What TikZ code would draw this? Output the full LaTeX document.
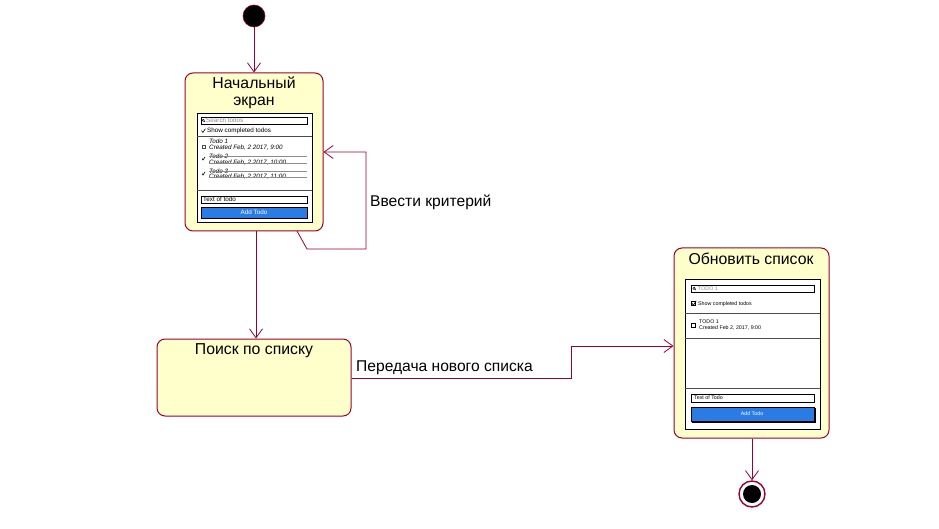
\documentclass[tikz,border=0pt]{standalone}
\usepackage{fontspec}
\setmainfont{Liberation Sans}
\usetikzlibrary{arrows.meta}
\definecolor{edge}{HTML}{990033}
\definecolor{statefill}{HTML}{FFFFCC}
\definecolor{btn}{HTML}{2B7BE4}
\begin{document}
\begin{tikzpicture}[x=1pt,y=-1pt,
 state/.style={draw=edge,fill=statefill,rounded corners=8pt,line width=1pt,inner sep=0,rectangle},
 arr/.style={draw=edge,line width=0.8pt,-{Straight Barb[length=9pt,width=13pt,line width=0.8pt]}},
 ttl/.style={font=\fontsize{15.8}{17}\selectfont,align=center,inner sep=0},
 lbl/.style={font=\fontsize{15.6}{17}\selectfont,inner sep=0,anchor=west},
 mock/.style={draw=black,fill=white,line width=0.8pt},
 field/.style={draw=black,fill=white,line width=0.7pt},
 sep/.style={draw=black!70,line width=0.5pt},
 tiny/.style={font=\fontsize{6.3}{7}\selectfont,inner sep=0,anchor=west},
 tinyi/.style={font=\fontsize{6.3}{7}\selectfont\itshape,inner sep=0,anchor=west},
 small/.style={font=\fontsize{5.3}{6}\selectfont,inner sep=0,anchor=west},
 grey/.style={text=black!45},
 cbox/.style={draw=black,line width=0.4pt},
 chk/.style={draw=black,line width=0.6pt},
 strike/.style={draw=black!45,line width=0.4pt}
]
\fill[white] (0,0) rectangle (939,529);
\useasboundingbox (0,0) rectangle (939,529);

% start
\node[circle,fill=black,draw=edge,line width=0.6pt,minimum size=22pt,inner sep=0] (start) at (254,16) {};

% states
\node[state,minimum width=138pt,minimum height=158pt] (s1) at (254,152) {};
\node[state,minimum width=194pt,minimum height=77pt] (s2) at (254,377.5) {};
\node[state,minimum width=155pt,minimum height=190pt] (s3) at (751.5,343) {};

% end
\node[circle,draw=edge,fill=white,line width=1.4pt,minimum size=26pt,inner sep=0] (end) at (752,494) {};
\fill[black] (end.center) circle (9pt);

% titles
\node[ttl] (t1) at (254,92.5) {Начальный\\экран};
\node[ttl] (t2) at (254,351) {Поиск по списку};
\node[ttl] (t3) at (751,259) {Обновить список};

% ---- mockup 1
\draw[mock] (197,113) rectangle (312,222);
\draw[field] (201,117) rectangle (307,124);
\draw[line width=0.4pt] (203.3,120.3) circle (1.1pt) (204.1,121.1) -- (205,122);
\node[tiny,grey] (m1s) at (206,120.6) {Search todos};
\draw[chk] (201.6,130.6) -- (202.9,132.4) -- (205.4,128.8);
\node[tiny] (m1c) at (207,131) {Show completed todos};
\draw[sep] (197,136) -- (312,136);
\draw[cbox,draw=black!70] (202,145) rectangle (204.8,147.8);
\node[tinyi] (m1a) at (209,141) {Todo 1};
\node[tinyi] (m1b) at (209,148) {Created Feb, 2 2017, 9:00};
\draw[chk] (202,158.5) -- (203,160) -- (205,157);
\node[tinyi] (m2a) at (209,156) {Todo 2};
\node[tinyi] (m2b) at (209,163) {Created Feb, 2 2017, 10:00};
\draw[strike] (209,156) -- (307,156) (209,163) -- (307,163);
\draw[chk] (202,173.5) -- (203,175) -- (205,172);
\node[tinyi] (m3a) at (209,171) {Todo 3};
\node[tinyi] (m3b) at (209,177) {Created Feb, 2 2017, 11:00};
\draw[strike] (209,171) -- (307,171) (209,177) -- (307,177);
\draw[sep] (197,190) -- (312,190);
\draw[field] (201,196) rectangle (307,203);
\node[tiny] (m1t) at (203,199.6) {Text of todo};
\fill[black] (202,208) rectangle (308,219);
\draw[fill=btn,draw=black,line width=0.5pt] (201,207) rectangle (307,218);
\node[tiny,anchor=center,text=white] (m1btn) at (254,212.5) {Add Todo};

% ---- mockup 2
\draw[mock] (685,279) rectangle (820,429);
\draw[field] (691,285) rectangle (814,292);
\draw[line width=0.5pt] (694,288.3) circle (1.2pt) (694.9,289.2) -- (695.9,290.2);
\node[small,grey] (n1s) at (698,288.5) {TODO 1};
\draw[cbox] (691.5,301.5) rectangle (695.5,305.5);
\draw[chk] (692,303.3) -- (693.3,305.2) -- (696.2,300.8);
\node[small] (n1c) at (698,304) {Show completed todos};
\draw[sep] (685,313) -- (820,313);
\draw[cbox] (691.5,323) rectangle (695.3,326.8);
\node[small] (n1a) at (699,322) {TODO 1};
\node[small] (n1b) at (699,328.3) {Created Feb 2, 2017, 9:00};
\draw[sep] (685,338) -- (820,338);
\draw[sep] (685,388) -- (820,388);
\draw[field] (691,394) rectangle (814,402);
\node[small] (n1t) at (694,398) {Text of Todo};
\fill[black] (692,408) rectangle (815.5,422.5);
\draw[fill=btn,draw=black,line width=0.5pt] (691,407) rectangle (814,421);
\node[small,anchor=center,text=white] (n1btn) at (752,414) {Add Todo};

% ---- connectors
\draw[arr] (start) -- (s1.north);
\draw[arr] ([xshift=2pt]s1.south) -- ([xshift=2pt]s2.north);
\coordinate (la) at (297,231);
\coordinate (lb) at (307,249);
\coordinate (lc) at (366,249);
\coordinate (ld) at (366,152);
\draw[arr] (la) -- (lb) -- (lc) -- (ld) -- (s1.east);
\node[lbl] (lab1) at (370,202) {Ввести критерий};

\coordinate (pa) at (571,378);
\coordinate (pb) at (571,346);
\draw[arr] (s2.east |- pa) -- (pa) -- (pb) -- (s3.west |- pb);
\node[lbl] (lab2) at (356,368) {Передача нового списка};

\draw[arr] ([xshift=0.5pt]s3.south) -- (end);
\end{tikzpicture}
\end{document}
